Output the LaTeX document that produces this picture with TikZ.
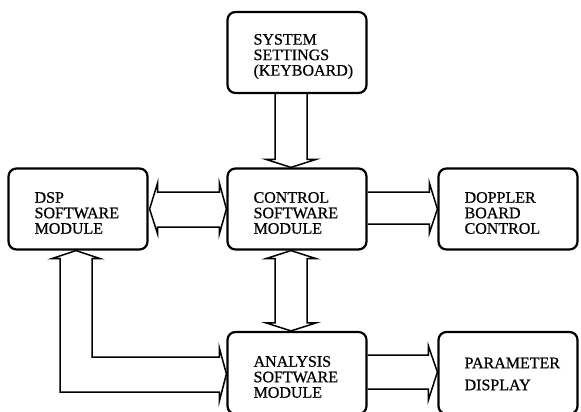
\documentclass[tikz,border=0pt]{standalone}
\usepackage{fontspec}
\setmainfont{Liberation Serif}
\newfontfamily\scanfont[FakeBold=0.7]{Liberation Serif}
\usetikzlibrary{calc, positioning}

\tikzset{
  blk/.style={draw, rounded corners=8pt, line width=2.2pt, minimum width=139pt, minimum height=81pt, inner sep=0pt},
  txt/.style={align=left, inner sep=0pt, yshift=-4pt, font=\scanfont\fontsize{16pt}{15.5pt}\selectfont},
  link/.style={line width=1.5pt, line join=miter},
}

\begin{document}
\begin{tikzpicture}[x=1pt, y=-1pt]
  \useasboundingbox (0,0) rectangle (581,412);

  % boxes
  \node[blk] (sys) at (297,52.5) {};
  \node[blk] (dsp) at (78,209) {};
  \node[blk] (ctrl) at (297,209) {};
  \node[blk] (dop) at (508,209) {};
  \node[blk, minimum height=82pt] (ana) at (297,373) {};
  \node[blk, minimum height=82pt] (par) at (508,373) {};

  % texts
  \node[txt, right=27pt of sys.west] (systxt) {SYSTEM\\SETTINGS\\(KEYBOARD)};
  \node[txt, right=27pt of dsp.west] (dsptxt) {DSP\\SOFTWARE\\MODULE};
  \node[txt, right=27pt of ctrl.west] (ctrltxt) {CONTROL\\SOFTWARE\\MODULE};
  \node[txt, right=27pt of dop.west] (doptxt) {DOPPLER\\BOARD\\CONTROL};
  \node[txt, right=27pt of ana.west] (anatxt) {ANALYSIS\\SOFTWARE\\MODULE};
  \node[txt, yshift=3pt, right=27pt of par.west] (partxt) {PARAMETER\\[6.5pt]DISPLAY};

  % keyboard -> control
  \draw[link] ($(sys.south)+(-22,0)$) -- ($(ctrl.north)+(-22,-8)$) -- ($(ctrl.north)+(-31,-8)$)
    -- ($(ctrl.north)+(-6,0)$) -- ($(ctrl.north)+(19,-8)$) -- ($(ctrl.north)+(10,-8)$) -- ($(sys.south)+(10,0)$);

  % control <-> analysis
  \draw[link] ($(ctrl.south)+(-6,0)$) -- ($(ctrl.south)+(19,8)$) -- ($(ctrl.south)+(10,8)$)
    -- ($(ana.north)+(10,-8)$) -- ($(ana.north)+(19,-8)$) -- ($(ana.north)+(-6,0)$)
    -- ($(ana.north)+(-31,-8)$) -- ($(ana.north)+(-22,-8)$) -- ($(ctrl.south)+(-22,8)$)
    -- ($(ctrl.south)+(-31,8)$) -- cycle;

  % dsp <-> control
  \draw[link] ($(dsp.east)+(1,0)$) -- ($(dsp.east)+(9,-26)$) -- ($(dsp.east)+(9,-17)$)
    -- ($(ctrl.west)+(-7,-17)$) -- ($(ctrl.west)+(-7,-26)$) -- (ctrl.west)
    -- ($(ctrl.west)+(-7,25)$) -- ($(ctrl.west)+(-7,18)$) -- ($(dsp.east)+(9,18)$)
    -- ($(dsp.east)+(9,25)$) -- cycle;

  % control -> doppler
  \draw[link] ($(ctrl.east)+(0,-17)$) -- ($(dop.west)+(-8,-17)$) -- ($(dop.west)+(-8,-26)$)
    -- (dop.west) -- ($(dop.west)+(-8,24)$) -- ($(dop.west)+(-8,15)$) -- ($(ctrl.east)+(0,15)$);

  % analysis -> parameter
  \draw[link] ($(ana.east)+(0,-18)$) -- ($(par.west)+(-9,-18)$) -- ($(par.west)+(-9,-27)$)
    -- ($(par.west)+(0,-1)$) -- ($(par.west)+(-9,27)$) -- ($(par.west)+(-9,16)$) -- ($(ana.east)+(0,16)$);

  % dsp <-> analysis
  \coordinate (dspo) at ($(dsp.south)+(-18,8)$);
  \coordinate (dspi) at ($(dsp.south)+(14,8)$);
  \coordinate (anao) at ($(ana.west)+(-7,19)$);
  \coordinate (anai) at ($(ana.west)+(-7,-16)$);
  \draw[link] (dspo) -- (dspo |- anao) -- (anao) -- ($(ana.west)+(-7,28)$) -- ($(ana.west)+(0,1)$)
    -- ($(ana.west)+(-7,-25)$) -- (anai) -- (dspi |- anai) -- (dspi) -- ($(dsp.south)+(22,8)$)
    -- ($(dsp.south)+(-2,0)$) -- ($(dsp.south)+(-26,8)$) -- cycle;
\end{tikzpicture}
\end{document}
